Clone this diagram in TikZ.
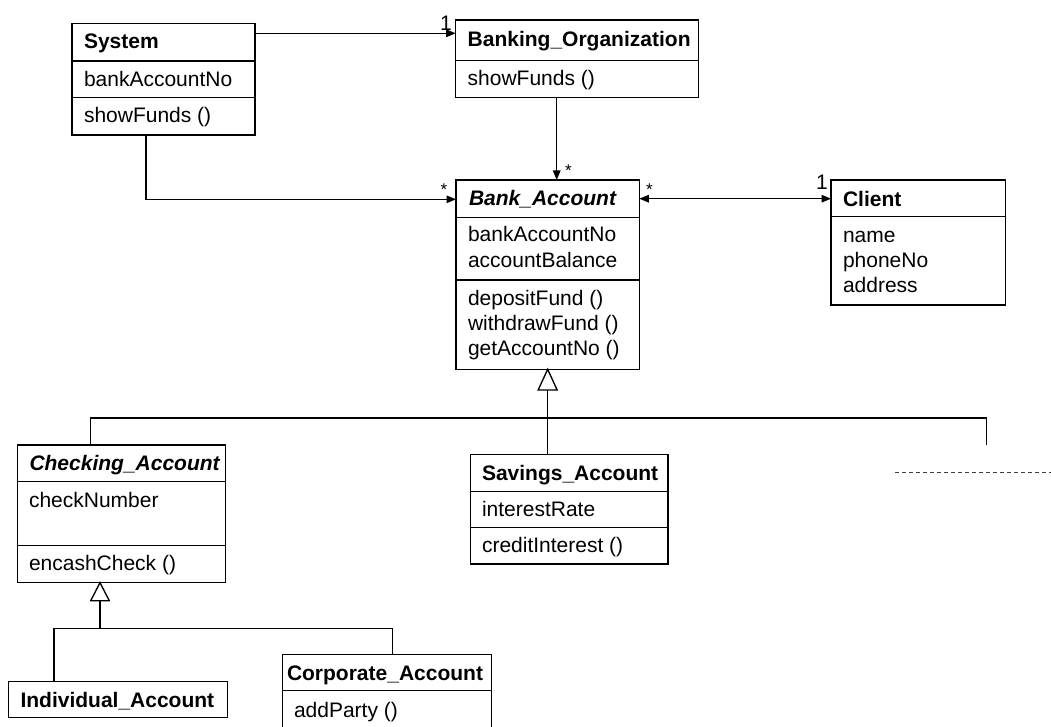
\documentclass[tikz,border=0pt]{standalone}
\usepackage{fontspec}
\setmainfont{Liberation Sans}
\usetikzlibrary{arrows.meta,calc}
\begin{document}
\begin{tikzpicture}[x=1pt,y=-1pt,
  cls/.style={draw=black, line width=1.5pt, fill=white, inner sep=0pt, outer sep=0pt, anchor=north west},
  sep/.style={draw=black, line width=1.5pt},
  txt/.style={anchor=north west, inner sep=0pt, outer sep=0pt, align=left, font=\fontsize{21}{25}\selectfont},
  ttl/.style={txt, font=\fontsize{21}{25}\selectfont\bfseries},
  attl/.style={txt, font=\fontsize{21}{25}\selectfont\bfseries\itshape},
  conn/.style={draw=black, line width=1.35pt},
  tip/.tip={Triangle[length=9.5pt,width=7.5pt]},
  assoc/.style={conn, -tip},
  mult/.style={anchor=base, inner sep=0pt, font=\fontsize{21}{25}\selectfont},
  star/.style={anchor=base, inner sep=0pt, font=\fontsize{17}{19}\selectfont},
  gen/.style={draw=black, line width=1.35pt, fill=white, line join=miter}
]
\useasboundingbox (0,0) rectangle (1051,727);
\fill[white] (0,0) rectangle (1051,727);
\clip (0,0) rectangle (1051,727);

% ---- class boxes ----
\node[cls, minimum width=183, minimum height=111.7] (sys) at (72,23.3) {};
\node[cls, minimum width=242.6, minimum height=77.7] (bo) at (455.7,20) {};
\node[cls, minimum width=183.3, minimum height=189.3] (ba) at (456,180) {};
\node[cls, minimum width=174.7, minimum height=125] (cl) at (831,180) {};
\node[cls, minimum width=208.4, minimum height=137.7] (ca) at (17.3,445) {};
\node[cls, minimum width=197.3, minimum height=109.7] (sa) at (470.7,454.3) {};
\node[cls, minimum width=219.4, minimum height=35.6] (ia) at (8.3,681.7) {};
\node[cls, minimum width=209, minimum height=80] (co) at (282.7,654.3) {};

% compartment dividers
\draw[sep] (sys.west |- 0,61) -- (sys.east |- 0,61);
\draw[sep] (sys.west |- 0,97.7) -- (sys.east |- 0,97.7);
\draw[sep] (bo.west |- 0,60.7) -- (bo.east |- 0,60.7);
\draw[sep] (ba.west |- 0,217.3) -- (ba.east |- 0,217.3);
\draw[sep] (ba.west |- 0,280) -- (ba.east |- 0,280);
\draw[sep] (cl.west |- 0,216.7) -- (cl.east |- 0,216.7);
\draw[sep] (ca.west |- 0,481.7) -- (ca.east |- 0,481.7);
\draw[sep] (ca.west |- 0,545.7) -- (ca.east |- 0,545.7);
\draw[sep] (sa.west |- 0,491.3) -- (sa.east |- 0,491.3);
\draw[sep] (sa.west |- 0,527.7) -- (sa.east |- 0,527.7);
\draw[sep] (co.west |- 0,690.7) -- (co.east |- 0,690.7);

% ---- class texts ----
\node[ttl] (sysT) at (84,31.5) {\strut System};
\node[txt] (sysA) at (84,69) {\strut bankAccountNo};
\node[txt] (sysO) at (84,105.5) {\strut showFunds ()};

\node[ttl] (boT) at (467.7,29) {\strut Banking\_Organization};
\node[txt] (boO) at (467.7,68.5) {\strut showFunds ()};

\node[attl] (baT) at (469,188.2) {\strut Bank\_Account};
\node[txt] (baA) at (468,224.5) {\strut bankAccountNo\\\strut accountBalance};
\node[txt] (baO) at (468,288) {\strut depositFund ()\\\strut withdrawFund ()\\\strut getAccountNo ()};

\node[ttl] (clT) at (843,189) {\strut Client};
\node[txt] (clA) at (843,225) {\strut name\\\strut phoneNo\\\strut address};

\node[attl] (caT) at (29.5,453.2) {\strut Checking\_Account};
\node[txt] (caA) at (29,490) {\strut checkNumber};
\node[txt] (caO) at (29,553) {\strut encashCheck ()};

\node[ttl] (saT) at (482,462.5) {\strut Savings\_Account};
\node[txt] (saA) at (482,499.2) {\strut interestRate};
\node[txt] (saO) at (482,535.2) {\strut creditInterest ()};

\node[ttl] (iaT) at (20.5,690.2) {\strut Individual\_Account};

\node[ttl] (coT) at (287,663.2) {\strut Corporate\_Account};
\node[txt] (coO) at (294,699.5) {\strut addParty ()};

% ---- associations ----
\draw[assoc] (sys.east |- 0,33.3) -- (bo.west |- 0,33.3);
\node[mult] (m1) at (446,30.7) {1};

\draw[assoc] (146,0 |- sys.south) |- (ba.west |- 0,199.3);
\node[star] (s1) at (444,195.5) {*};

\draw[assoc] (556.7,0 |- bo.south) -- (556.7,0 |- ba.north);
\node[star] (s2) at (568.3,177) {*};

\draw[conn, tip-tip] (ba.east |- 0,198.7) -- (cl.west |- 0,198.7);
\node[star] (s3) at (649.5,195.5) {*};
\node[mult] (m2) at (822,190) {1};

% ---- generalization: Bank_Account ----
\coordinate (g1) at (ba.south);
\coordinate (g1b) at ($(g1)+(0,20.7)$);
\coordinate (t1a) at (90.7,418);
\coordinate (t1b) at (986.7,418);
\coordinate (t1c) at (986.7,445);
\draw[conn] (g1b) -- (g1 |- sa.north);
\draw[conn] (ca.north -| t1a) -- (t1a) -- (t1b) -- (t1c);
\draw[gen] (g1) -- ++(-9.5,20.7) -- ++(19,0) -- cycle;

% further subclasses, elided
\coordinate (d1) at (895,472.3);
\coordinate (d2) at (1060,472.3);
\draw[line width=1.1pt, black!75, dash pattern=on 4pt off 3pt] (d1) -- (d2);

% ---- generalization: Checking_Account ----
\coordinate (g2) at (100,0 |- ca.south);
\coordinate (g2b) at ($(g2)+(0,18)$);
\coordinate (t2a) at (54,628.3);
\coordinate (t2b) at (392.7,628.3);
\draw[conn] (g2b) -- (g2b |- t2a);
\draw[conn] (ia.north -| t2a) -- (t2a) -- (t2b) -- (co.north -| t2b);
\draw[gen] (g2) -- ++(-9.3,18) -- ++(18.6,0) -- cycle;

\end{tikzpicture}
\end{document}
